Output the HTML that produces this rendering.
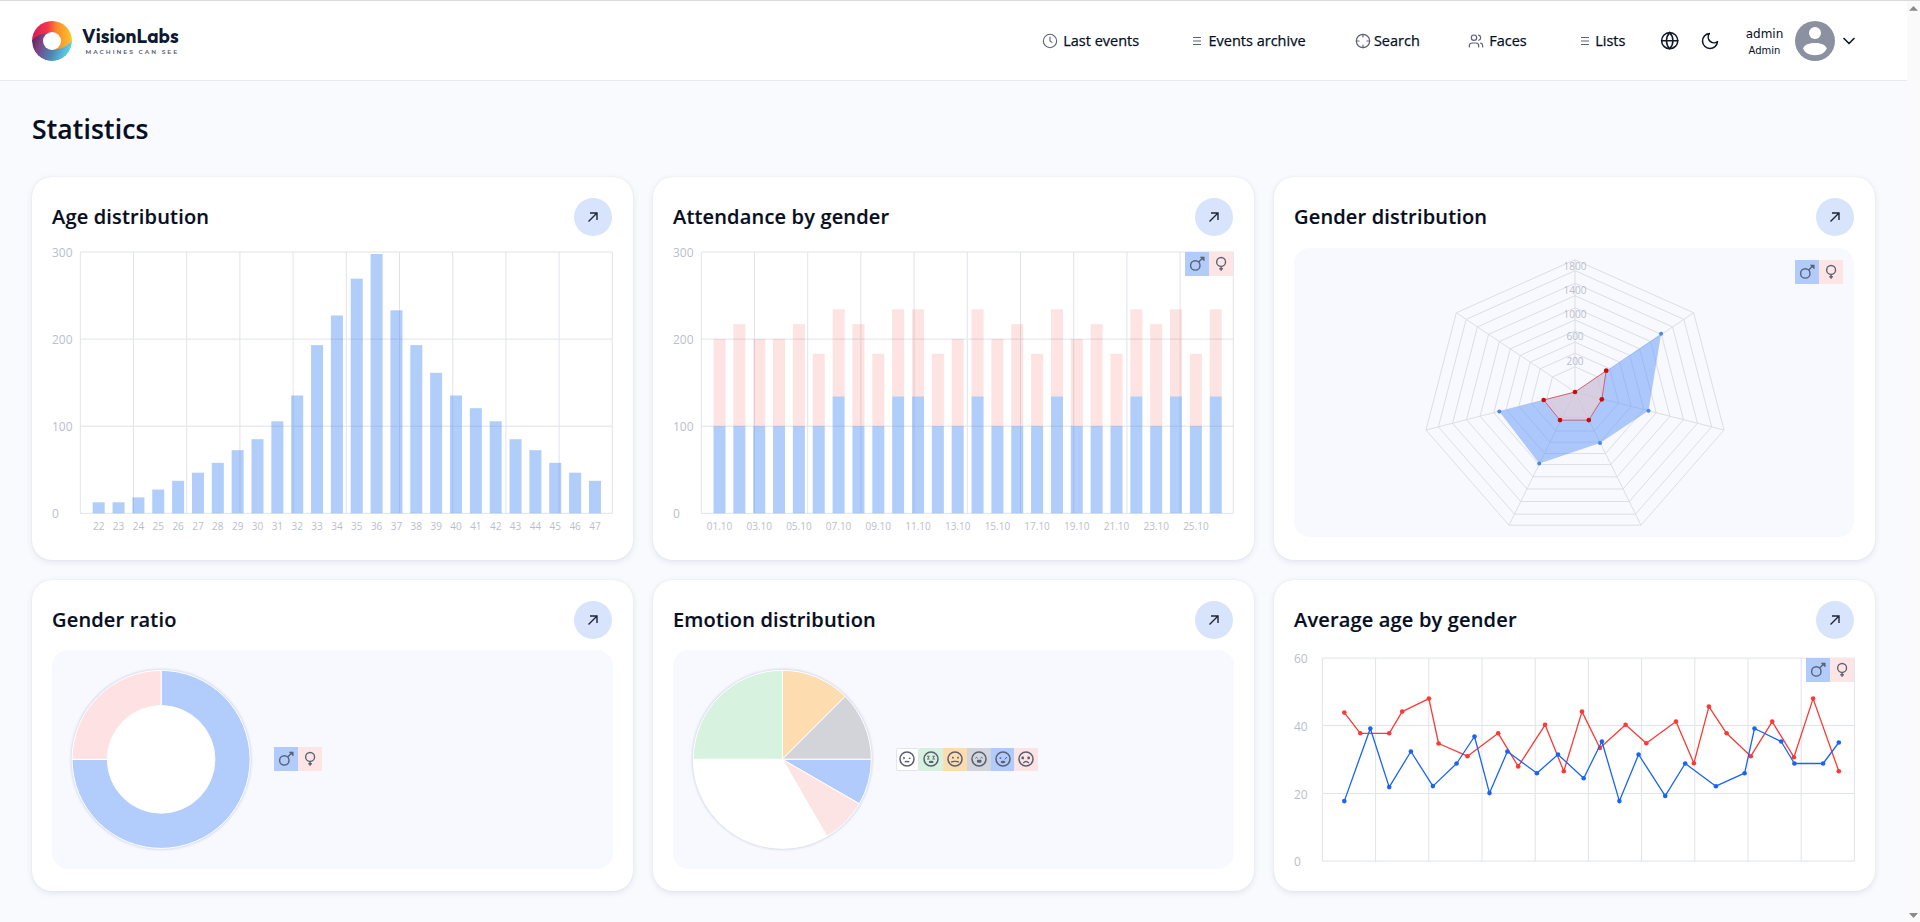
<!DOCTYPE html>
<html><head><meta charset="utf-8"><title>Statistics</title>
<style>
*{box-sizing:border-box}
html,body{margin:0;padding:0;width:1920px;height:922px;overflow:hidden;background:#f9fafd;font-family:'Open Sans', 'Liberation Sans', sans-serif;color:#070e21}
.topline{position:absolute;left:0;top:0;width:1920px;height:1px;background:#d9dbdb}
.hdr{position:absolute;left:0;top:1px;width:1907px;height:80px;background:#fff;border-bottom:1px solid #e8eaf0}
.sb{position:absolute;left:1907px;top:1px;width:13px;height:921px;background:#fafafa}
.ic{position:absolute;display:block;overflow:visible}
.nt{position:absolute;top:30.6px;font-size:14.5px;-webkit-text-stroke:0.25px #070e21;line-height:20px;color:#070e21;white-space:nowrap}
.brand{position:absolute;left:82px;top:26px;font:700 19px 'Outfit','Liberation Sans',sans-serif;color:#0e1a31;letter-spacing:0.1px;line-height:20px}
.tag{position:absolute;left:85.5px;top:47.8px;font:600 6px 'Montserrat','Liberation Sans',sans-serif;color:#545c70;letter-spacing:1.95px;line-height:8px;white-space:nowrap}
.user1{position:absolute;left:1734px;width:61px;text-align:center;top:27px;font:12px 'DejaVu Sans',sans-serif;line-height:14px}
.user2{position:absolute;left:1734px;width:61px;text-align:center;top:45px;font:10px 'DejaVu Sans',sans-serif;line-height:12px}
.av{position:absolute;left:1795px;top:21px;width:40px;height:40px;border-radius:50%;background:#8b91a0;overflow:hidden}
h1{position:absolute;left:32px;top:111.3px;margin:0;font-size:26.5px;-webkit-text-stroke:0.15px #070e21;font-weight:600;line-height:36px;letter-spacing:0.15px}
.card{position:absolute;background:#fff;border-radius:20px;box-shadow:0 2px 6px rgba(45,65,130,0.11),0 0 1.5px rgba(45,65,130,0.09)}
.ct{position:absolute;font-size:20px;font-weight:600;-webkit-text-stroke:0.15px #070e21;line-height:24px;white-space:nowrap;letter-spacing:0.17px}
.ab{position:absolute;width:38px;height:38px;border-radius:50%;background:#d8e4fc;display:flex;align-items:center;justify-content:center}
.panel{position:absolute;background:#f8f9fe;border-radius:16px}
.lg{position:absolute;width:24px;height:24px}
.lg svg{display:block}
.ov{position:absolute;left:0;top:0}
</style></head><body>
<div class="topline"></div>
<div class="hdr"></div>
<svg class="ic" style="left:32px;top:21px" width="40" height="40" viewBox="0 0 40 40">
<defs>
<linearGradient id="lgA" x1="0" y1="0" x2="1" y2="0"><stop offset="0" stop-color="#d41a5c"/><stop offset="0.4" stop-color="#f5374a"/><stop offset="0.62" stop-color="#fb8a2c"/><stop offset="1" stop-color="#fbc82a"/></linearGradient>
<linearGradient id="lgB" x1="0" y1="0.3" x2="1" y2="0.7"><stop offset="0" stop-color="#4e1a4c"/><stop offset="0.25" stop-color="#7d4083"/><stop offset="0.6" stop-color="#4d86b4"/><stop offset="1" stop-color="#5edcf0"/></linearGradient>
<mask id="hole"><rect width="40" height="40" fill="#fff"/><circle cx="20" cy="20" r="9" fill="#000"/></mask>
<clipPath id="cc"><circle cx="20" cy="20" r="20"/></clipPath>
</defs><g mask="url(#hole)" clip-path="url(#cc)">
<circle cx="20" cy="20" r="20" fill="url(#lgB)"/>
<path d="M0,19.6 C4,15 10,12.2 15.8,11.9 L21.2,28.8 C29,28.6 35,25 40,20 L40,0 L0,0 Z" fill="url(#lgA)"/>
</g>
<circle cx="20" cy="20" r="20" fill="none"/>
</svg>
<div class="brand">VisionLabs</div>
<div class="tag">MACHINES CAN SEE</div>
<svg class="ic" style="left:1042.4px;top:32.9px" width="16" height="16" viewBox="0 0 24 24" fill="none" stroke="#5b6274" stroke-width="1.6" stroke-linecap="round" stroke-linejoin="round"><circle cx="12" cy="12" r="10"/><polyline points="12 6 12 12 15 14"/></svg><svg class="ic" style="left:1190px;top:34px" width="14" height="14" viewBox="0 0 14 14"><path d="M3 3.5 H11 M3 7 H11 M3 10.5 H11" stroke="#5b6274" stroke-width="1"/></svg><svg class="ic" style="left:1354.5px;top:32.8px" width="16" height="16" viewBox="0 0 24 24" fill="none" stroke="#5b6274" stroke-width="1.8" stroke-linecap="round" stroke-linejoin="round"><circle cx="12" cy="12" r="10"/><path d="M22 12h-4M6 12H2M12 6V2M12 22v-4"/></svg><svg class="ic" style="left:1468.2px;top:33px" width="16" height="16" viewBox="0 0 24 24" fill="none" stroke="#5b6274" stroke-width="1.8" stroke-linecap="round" stroke-linejoin="round"><path d="M16 21v-2a4 4 0 0 0-4-4H6a4 4 0 0 0-4 4v2"/><circle cx="9" cy="7" r="4"/><path d="M22 21v-2a4 4 0 0 0-3-3.87"/><path d="M16 3.13a4 4 0 0 1 0 7.75"/></svg><svg class="ic" style="left:1578px;top:34px" width="14" height="14" viewBox="0 0 14 14"><path d="M3 3.5 H11 M3 7 H11 M3 10.5 H11" stroke="#5b6274" stroke-width="1"/></svg><svg class="ic" style="left:1660.35px;top:31.1px" width="19.4" height="19.4" viewBox="0 0 24 24" fill="none" stroke="#101828" stroke-width="1.9" stroke-linecap="round" stroke-linejoin="round"><circle cx="12" cy="12" r="10"/><path d="M12 2a14.5 14.5 0 0 0 0 20 14.5 14.5 0 0 0 0-20"/><path d="M2 12h20"/></svg><svg class="ic" style="left:1699.7px;top:31px" width="20" height="20" viewBox="0 0 24 24" fill="none" stroke="#101828" stroke-width="1.85" stroke-linecap="round" stroke-linejoin="round"><path d="M21 12.79A9 9 0 1 1 11.21 3 7 7 0 0 0 21 12.79z"/></svg><svg class="ic" style="left:1838.8px;top:30.8px" width="20" height="20" viewBox="0 0 24 24" fill="none" stroke="#101828" stroke-width="2" stroke-linecap="round" stroke-linejoin="round"><path d="m6 9 6 6 6-6"/></svg>
<div class="nt" style="left:1063.2px">Last events</div><div class="nt" style="left:1208.5px">Events archive</div><div class="nt" style="left:1373.9px">Search</div><div class="nt" style="left:1489.2px">Faces</div><div class="nt" style="left:1595.2px">Lists</div>
<div class="user1">admin</div>
<div class="user2">Admin</div>
<div class="av"><div style="position:absolute;left:14px;top:6px;width:12.2px;height:12.2px;border-radius:50%;background:#fff"></div><svg style="position:absolute;left:0;top:0" width="40" height="40" viewBox="0 0 40 40"><path d="M8.2 27.3 C10 20.3 29.8 20.3 31.6 27.3 C29.3 36.6 10.5 36.6 8.2 27.3 Z" fill="#fff"/></svg></div>
<div class="sb"><svg style="position:absolute;left:0;top:0" width="13" height="921" viewBox="0 0 13 921"><path d="M2 9.8 L6.5 5 L11 9.8Z" fill="#8a8a8a"/><path d="M2 912 L6.5 917 L11 912Z" fill="#8a8a8a"/></svg></div>
<h1>Statistics</h1>
<div class="card" style="left:32px;top:177px;width:601px;height:383px"></div><div class="ct" style="left:52px;top:205px">Age distribution</div><div class="ab" style="left:574px;top:198px"><svg width="14" height="14" viewBox="0 0 14 14"><path d="M2.5 11.5 L11 3 M4 3 H11 V10" fill="none" stroke="#1f2535" stroke-width="1.4"/></svg></div><div class="card" style="left:653px;top:177px;width:601px;height:383px"></div><div class="ct" style="left:673px;top:205px">Attendance by gender</div><div class="ab" style="left:1195px;top:198px"><svg width="14" height="14" viewBox="0 0 14 14"><path d="M2.5 11.5 L11 3 M4 3 H11 V10" fill="none" stroke="#1f2535" stroke-width="1.4"/></svg></div><div class="card" style="left:1274px;top:177px;width:601px;height:383px"></div><div class="ct" style="left:1294px;top:205px">Gender distribution</div><div class="ab" style="left:1816px;top:198px"><svg width="14" height="14" viewBox="0 0 14 14"><path d="M2.5 11.5 L11 3 M4 3 H11 V10" fill="none" stroke="#1f2535" stroke-width="1.4"/></svg></div><div class="card" style="left:32px;top:580px;width:601px;height:311px"></div><div class="ct" style="left:52px;top:608px">Gender ratio</div><div class="ab" style="left:574px;top:601px"><svg width="14" height="14" viewBox="0 0 14 14"><path d="M2.5 11.5 L11 3 M4 3 H11 V10" fill="none" stroke="#1f2535" stroke-width="1.4"/></svg></div><div class="card" style="left:653px;top:580px;width:601px;height:311px"></div><div class="ct" style="left:673px;top:608px">Emotion distribution</div><div class="ab" style="left:1195px;top:601px"><svg width="14" height="14" viewBox="0 0 14 14"><path d="M2.5 11.5 L11 3 M4 3 H11 V10" fill="none" stroke="#1f2535" stroke-width="1.4"/></svg></div><div class="card" style="left:1274px;top:580px;width:601px;height:311px"></div><div class="ct" style="left:1294px;top:608px">Average age by gender</div><div class="ab" style="left:1816px;top:601px"><svg width="14" height="14" viewBox="0 0 14 14"><path d="M2.5 11.5 L11 3 M4 3 H11 V10" fill="none" stroke="#1f2535" stroke-width="1.4"/></svg></div>
<div class="panel" style="left:1294px;top:248px;width:560px;height:289px"></div><div class="panel" style="left:52px;top:650px;width:561px;height:219px"></div><div class="panel" style="left:673px;top:650px;width:561px;height:219px"></div>
<svg class="ov" width="1920" height="922" viewBox="0 0 1920 922"><g stroke="#e1e3eb" stroke-width="1"><line x1="80.3" y1="252" x2="612.3" y2="252"/><line x1="80.3" y1="339.1" x2="612.3" y2="339.1"/><line x1="80.3" y1="426.2" x2="612.3" y2="426.2"/><line x1="80.3" y1="513.3" x2="612.3" y2="513.3"/><line x1="80.3" y1="252" x2="80.3" y2="513.3"/><line x1="133.5" y1="252" x2="133.5" y2="513.3"/><line x1="186.7" y1="252" x2="186.7" y2="513.3"/><line x1="239.9" y1="252" x2="239.9" y2="513.3"/><line x1="293.1" y1="252" x2="293.1" y2="513.3"/><line x1="346.3" y1="252" x2="346.3" y2="513.3"/><line x1="399.5" y1="252" x2="399.5" y2="513.3"/><line x1="452.7" y1="252" x2="452.7" y2="513.3"/><line x1="505.9" y1="252" x2="505.9" y2="513.3"/><line x1="559.1" y1="252" x2="559.1" y2="513.3"/><line x1="612.3" y1="252" x2="612.3" y2="513.3"/></g><g font-family="'Open Sans', 'Liberation Sans', sans-serif" font-size="12" fill="#b9becd"><text x="52" y="256.8">300</text><text x="52" y="343.8">200</text><text x="52" y="430.8">100</text><text x="52" y="517.8">0</text></g><g fill="rgba(66,133,244,0.41)"><rect x="92.7" y="502.3" width="12" height="11"/><rect x="112.55" y="502.3" width="12" height="11"/><rect x="132.4" y="497.4" width="12" height="15.9"/><rect x="152.25" y="489.6" width="12" height="23.7"/><rect x="172.1" y="480.8" width="12" height="32.5"/><rect x="191.95" y="472.7" width="12" height="40.6"/><rect x="211.8" y="462.9" width="12" height="50.4"/><rect x="231.65" y="450.2" width="12" height="63.1"/><rect x="251.5" y="439.2" width="12" height="74.1"/><rect x="271.35" y="421.3" width="12" height="92"/><rect x="291.2" y="395.5" width="12" height="117.8"/><rect x="311.05" y="345.1" width="12" height="168.2"/><rect x="330.9" y="315.5" width="12" height="197.8"/><rect x="350.75" y="278.7" width="12" height="234.6"/><rect x="370.6" y="254" width="12" height="259.3"/><rect x="390.45" y="310.3" width="12" height="203"/><rect x="410.3" y="345.1" width="12" height="168.2"/><rect x="430.15" y="372.8" width="12" height="140.5"/><rect x="450" y="395.5" width="12" height="117.8"/><rect x="469.85" y="408.2" width="12" height="105.1"/><rect x="489.7" y="421.3" width="12" height="92"/><rect x="509.55" y="439.2" width="12" height="74.1"/><rect x="529.4" y="450.2" width="12" height="63.1"/><rect x="549.25" y="462.9" width="12" height="50.4"/><rect x="569.1" y="472.7" width="12" height="40.6"/><rect x="588.95" y="480.8" width="12" height="32.5"/></g><g font-family="'Open Sans', 'Liberation Sans', sans-serif" font-size="10" fill="#b9becd" text-anchor="middle"><text x="98.7" y="529.7">22</text><text x="118.55" y="529.7">23</text><text x="138.4" y="529.7">24</text><text x="158.25" y="529.7">25</text><text x="178.1" y="529.7">26</text><text x="197.95" y="529.7">27</text><text x="217.8" y="529.7">28</text><text x="237.65" y="529.7">29</text><text x="257.5" y="529.7">30</text><text x="277.35" y="529.7">31</text><text x="297.2" y="529.7">32</text><text x="317.05" y="529.7">33</text><text x="336.9" y="529.7">34</text><text x="356.75" y="529.7">35</text><text x="376.6" y="529.7">36</text><text x="396.45" y="529.7">37</text><text x="416.3" y="529.7">38</text><text x="436.15" y="529.7">39</text><text x="456" y="529.7">40</text><text x="475.85" y="529.7">41</text><text x="495.7" y="529.7">42</text><text x="515.55" y="529.7">43</text><text x="535.4" y="529.7">44</text><text x="555.25" y="529.7">45</text><text x="575.1" y="529.7">46</text><text x="594.95" y="529.7">47</text></g><g stroke="#e1e3eb" stroke-width="1"><line x1="701.3" y1="252" x2="1233.3" y2="252"/><line x1="701.3" y1="339.1" x2="1233.3" y2="339.1"/><line x1="701.3" y1="426.2" x2="1233.3" y2="426.2"/><line x1="701.3" y1="513.3" x2="1233.3" y2="513.3"/><line x1="701.3" y1="252" x2="701.3" y2="513.3"/><line x1="754.5" y1="252" x2="754.5" y2="513.3"/><line x1="807.7" y1="252" x2="807.7" y2="513.3"/><line x1="860.9" y1="252" x2="860.9" y2="513.3"/><line x1="914.1" y1="252" x2="914.1" y2="513.3"/><line x1="967.3" y1="252" x2="967.3" y2="513.3"/><line x1="1020.5" y1="252" x2="1020.5" y2="513.3"/><line x1="1073.7" y1="252" x2="1073.7" y2="513.3"/><line x1="1126.9" y1="252" x2="1126.9" y2="513.3"/><line x1="1180.1" y1="252" x2="1180.1" y2="513.3"/><line x1="1233.3" y1="252" x2="1233.3" y2="513.3"/></g><g font-family="'Open Sans', 'Liberation Sans', sans-serif" font-size="12" fill="#b9becd"><text x="673" y="256.8">300</text><text x="673" y="343.8">200</text><text x="673" y="430.8">100</text><text x="673" y="517.8">0</text></g><g fill="rgba(244,67,54,0.15)"><rect x="713.5" y="338.96" width="12" height="87.17"/><rect x="733.35" y="324.14" width="12" height="101.99"/><rect x="753.2" y="338.96" width="12" height="87.17"/><rect x="773.05" y="338.96" width="12" height="87.17"/><rect x="792.9" y="324.14" width="12" height="101.99"/><rect x="812.75" y="353.78" width="12" height="72.35"/><rect x="832.6" y="309.32" width="12" height="87.17"/><rect x="852.45" y="324.14" width="12" height="101.99"/><rect x="872.3" y="353.78" width="12" height="72.35"/><rect x="892.15" y="309.32" width="12" height="87.17"/><rect x="912" y="309.32" width="12" height="87.17"/><rect x="931.85" y="353.78" width="12" height="72.35"/><rect x="951.7" y="338.96" width="12" height="87.17"/><rect x="971.55" y="309.32" width="12" height="87.17"/><rect x="991.4" y="338.96" width="12" height="87.17"/><rect x="1011.25" y="324.14" width="12" height="101.99"/><rect x="1031.1" y="353.78" width="12" height="72.35"/><rect x="1050.95" y="309.32" width="12" height="87.17"/><rect x="1070.8" y="338.96" width="12" height="87.17"/><rect x="1090.65" y="324.14" width="12" height="101.99"/><rect x="1110.5" y="353.78" width="12" height="72.35"/><rect x="1130.35" y="309.32" width="12" height="87.17"/><rect x="1150.2" y="324.14" width="12" height="101.99"/><rect x="1170.05" y="309.32" width="12" height="87.17"/><rect x="1189.9" y="353.78" width="12" height="72.35"/><rect x="1209.75" y="309.32" width="12" height="87.17"/></g><g fill="rgba(66,133,244,0.41)"><rect x="713.5" y="426.13" width="12" height="87.17"/><rect x="733.35" y="426.13" width="12" height="87.17"/><rect x="753.2" y="426.13" width="12" height="87.17"/><rect x="773.05" y="426.13" width="12" height="87.17"/><rect x="792.9" y="426.13" width="12" height="87.17"/><rect x="812.75" y="426.13" width="12" height="87.17"/><rect x="832.6" y="396.49" width="12" height="116.81"/><rect x="852.45" y="426.13" width="12" height="87.17"/><rect x="872.3" y="426.13" width="12" height="87.17"/><rect x="892.15" y="396.49" width="12" height="116.81"/><rect x="912" y="396.49" width="12" height="116.81"/><rect x="931.85" y="426.13" width="12" height="87.17"/><rect x="951.7" y="426.13" width="12" height="87.17"/><rect x="971.55" y="396.49" width="12" height="116.81"/><rect x="991.4" y="426.13" width="12" height="87.17"/><rect x="1011.25" y="426.13" width="12" height="87.17"/><rect x="1031.1" y="426.13" width="12" height="87.17"/><rect x="1050.95" y="396.49" width="12" height="116.81"/><rect x="1070.8" y="426.13" width="12" height="87.17"/><rect x="1090.65" y="426.13" width="12" height="87.17"/><rect x="1110.5" y="426.13" width="12" height="87.17"/><rect x="1130.35" y="396.49" width="12" height="116.81"/><rect x="1150.2" y="426.13" width="12" height="87.17"/><rect x="1170.05" y="396.49" width="12" height="116.81"/><rect x="1189.9" y="426.13" width="12" height="87.17"/><rect x="1209.75" y="396.49" width="12" height="116.81"/></g><g font-family="'Open Sans', 'Liberation Sans', sans-serif" font-size="10" fill="#b9becd" text-anchor="middle"><text x="719.5" y="529.7">01.10</text><text x="759.2" y="529.7">03.10</text><text x="798.9" y="529.7">05.10</text><text x="838.6" y="529.7">07.10</text><text x="878.3" y="529.7">09.10</text><text x="918" y="529.7">11.10</text><text x="957.7" y="529.7">13.10</text><text x="997.4" y="529.7">15.10</text><text x="1037.1" y="529.7">17.10</text><text x="1076.8" y="529.7">19.10</text><text x="1116.5" y="529.7">21.10</text><text x="1156.2" y="529.7">23.10</text><text x="1195.9" y="529.7">25.10</text></g><g fill="none" stroke="#dcdee5" stroke-width="1"><polygon points="1575,366.86 1597.55,376.95 1603.31,399.22 1587.54,417.31 1562.46,417.31 1546.69,399.22 1552.45,376.95"/><polygon points="1575,353.24 1609.78,368.79 1618.66,403.13 1594.34,431.03 1555.66,431.03 1531.34,403.13 1540.22,368.79"/><polygon points="1575,342.12 1619.75,362.14 1631.17,406.33 1599.88,442.22 1550.12,442.22 1518.83,406.33 1530.25,362.14"/><polygon points="1575,330.88 1629.84,355.41 1643.84,409.56 1605.49,453.54 1544.51,453.54 1506.16,409.56 1520.16,355.41"/><polygon points="1575,319.9 1639.69,348.84 1656.2,412.71 1610.97,464.59 1539.03,464.59 1493.8,412.71 1510.31,348.84"/><polygon points="1575,307.72 1650.61,341.55 1669.91,416.21 1617.04,476.85 1532.96,476.85 1480.09,416.21 1499.39,341.55"/><polygon points="1575,295.69 1661.41,334.34 1683.47,419.66 1623.05,488.97 1526.95,488.97 1466.53,419.66 1488.59,334.34"/><polygon points="1575,283.25 1672.57,326.9 1697.48,423.24 1629.25,501.49 1520.75,501.49 1452.52,423.24 1477.43,326.9"/><polygon points="1575,270.68 1683.85,319.37 1711.63,426.85 1635.52,514.14 1514.48,514.14 1438.37,426.85 1466.15,319.37"/><polygon points="1575,259.7 1693.7,312.8 1724,430 1641,525.2 1509,525.2 1426,430 1456.3,312.8"/><line x1="1575" y1="392" x2="1575" y2="259.7"/><line x1="1575" y1="392" x2="1693.7" y2="312.8"/><line x1="1575" y1="392" x2="1724" y2="430"/><line x1="1575" y1="392" x2="1641" y2="525.2"/><line x1="1575" y1="392" x2="1509" y2="525.2"/><line x1="1575" y1="392" x2="1426" y2="430"/><line x1="1575" y1="392" x2="1456.3" y2="312.8"/></g><g font-family="'Open Sans', 'Liberation Sans', sans-serif" font-size="10" fill="#b9becd" text-anchor="middle"><text x="1575" y="270.2">1800</text><text x="1575" y="293.8">1400</text><text x="1575" y="318.1">1000</text><text x="1575" y="340.2">600</text><text x="1575" y="365.1">200</text></g><polygon points="1575,392 1661.1,333.7 1648.5,410.7 1600,443 1539.2,463.5 1499.3,411.4 1575,392" fill="rgba(95,150,248,0.5)" stroke="none"/><circle cx="1661.1" cy="333.7" r="2" fill="#4a86f0"/><circle cx="1648.5" cy="410.7" r="2" fill="#4a86f0"/><circle cx="1600" cy="443" r="2" fill="#4a86f0"/><circle cx="1539.2" cy="463.5" r="2" fill="#4a86f0"/><circle cx="1499.3" cy="411.4" r="2" fill="#4a86f0"/><polygon points="1575,392 1606.2,370.7 1601.8,399.3 1588.8,420.1 1560,420.1 1543.7,400 1575,392" fill="rgba(255,212,204,0.52)" stroke="rgba(215,40,50,0.65)" stroke-width="1"/><circle cx="1575" cy="392" r="2.35" fill="#cc0a0a"/><circle cx="1606.2" cy="370.7" r="2.35" fill="#cc0a0a"/><circle cx="1601.8" cy="399.3" r="2.35" fill="#cc0a0a"/><circle cx="1588.8" cy="420.1" r="2.35" fill="#cc0a0a"/><circle cx="1560" cy="420.1" r="2.35" fill="#cc0a0a"/><circle cx="1543.7" cy="400" r="2.35" fill="#cc0a0a"/><defs><filter id="sh" x="-20%" y="-20%" width="140%" height="140%"><feGaussianBlur stdDeviation="0.9"/></filter></defs><circle cx="161.1" cy="759.4" r="89.4" fill="none" stroke="rgba(110,130,185,0.35)" stroke-width="1.6" filter="url(#sh)"/><path d="M161.1,670.4 A89,89 0 1 1 72.1,759.4 L107.3,759.4 A53.8,53.8 0 1 0 161.1,705.6 Z" fill="#b2ccfb" stroke="#fff" stroke-width="1"/><path d="M72.1,759.4 A89,89 0 0 1 161.1,670.4 L161.1,705.6 A53.8,53.8 0 0 0 107.3,759.4 Z" fill="#fee2e3" stroke="#fff" stroke-width="1"/><circle cx="161.1" cy="759.4" r="53.3" fill="#fff"/><circle cx="782.3" cy="759.3" r="89.4" fill="none" stroke="rgba(110,130,185,0.35)" stroke-width="1.6" filter="url(#sh)"/><path d="M782.3,759.3 L782.3,670.3 A89,89 0 0 1 845.23,696.37 Z" fill="#fddcb0" stroke="#fff" stroke-width="1"/><path d="M782.3,759.3 L845.23,696.37 A89,89 0 0 1 871.3,759.3 Z" fill="#d2d4d9" stroke="#fff" stroke-width="1"/><path d="M782.3,759.3 L871.3,759.3 A89,89 0 0 1 859.38,803.8 Z" fill="#b0cbfc" stroke="#fff" stroke-width="1"/><path d="M782.3,759.3 L859.38,803.8 A89,89 0 0 1 826.8,836.38 Z" fill="#fde4e4" stroke="#fff" stroke-width="1"/><path d="M782.3,759.3 L826.8,836.38 A89,89 0 0 1 693.3,759.3 Z" fill="#ffffff" stroke="#fff" stroke-width="1"/><path d="M782.3,759.3 L693.3,759.3 A89,89 0 0 1 782.3,670.3 Z" fill="#d7f2de" stroke="#fff" stroke-width="1"/><g stroke="#e1e3eb" stroke-width="1"><line x1="1322.4" y1="658.1" x2="1854.4" y2="658.1"/><line x1="1322.4" y1="725.5" x2="1854.4" y2="725.5"/><line x1="1322.4" y1="793.5" x2="1854.4" y2="793.5"/><line x1="1322.4" y1="861.1" x2="1854.4" y2="861.1"/><line x1="1322.4" y1="658.1" x2="1322.4" y2="861.1"/><line x1="1375.6" y1="658.1" x2="1375.6" y2="861.1"/><line x1="1428.8" y1="658.1" x2="1428.8" y2="861.1"/><line x1="1482" y1="658.1" x2="1482" y2="861.1"/><line x1="1535.2" y1="658.1" x2="1535.2" y2="861.1"/><line x1="1588.4" y1="658.1" x2="1588.4" y2="861.1"/><line x1="1641.6" y1="658.1" x2="1641.6" y2="861.1"/><line x1="1694.8" y1="658.1" x2="1694.8" y2="861.1"/><line x1="1748" y1="658.1" x2="1748" y2="861.1"/><line x1="1801.2" y1="658.1" x2="1801.2" y2="861.1"/><line x1="1854.4" y1="658.1" x2="1854.4" y2="861.1"/></g><g font-family="'Open Sans', 'Liberation Sans', sans-serif" font-size="12" fill="#b9becd"><text x="1294" y="662.7">60</text><text x="1294" y="730.7">40</text><text x="1294" y="798.7">20</text><text x="1294" y="865.7">0</text></g><polyline points="1344.3,712.6 1360.3,733.3 1389.2,733.3 1402.2,711.6 1428.9,698.6 1438.6,743.5 1467.5,756.2 1498.2,733.3 1518.2,766.4 1545.1,724.8 1563.8,771.2 1582,711.6 1599.9,748 1625.6,724.8 1646.3,743.3 1676,721.6 1693.9,763.2 1708.9,706.6 1726.6,733.3 1750.8,756.2 1772.2,721.6 1793.9,757.2 1813.1,698.6 1838.8,771.2" fill="none" stroke="#f93a35" stroke-width="1.3" stroke-linejoin="round"/><g fill="#f93a35"><circle cx="1344.3" cy="712.6" r="2.3"/><circle cx="1360.3" cy="733.3" r="2.3"/><circle cx="1389.2" cy="733.3" r="2.3"/><circle cx="1402.2" cy="711.6" r="2.3"/><circle cx="1428.9" cy="698.6" r="2.3"/><circle cx="1438.6" cy="743.5" r="2.3"/><circle cx="1467.5" cy="756.2" r="2.3"/><circle cx="1498.2" cy="733.3" r="2.3"/><circle cx="1518.2" cy="766.4" r="2.3"/><circle cx="1545.1" cy="724.8" r="2.3"/><circle cx="1563.8" cy="771.2" r="2.3"/><circle cx="1582" cy="711.6" r="2.3"/><circle cx="1599.9" cy="748" r="2.3"/><circle cx="1625.6" cy="724.8" r="2.3"/><circle cx="1646.3" cy="743.3" r="2.3"/><circle cx="1676" cy="721.6" r="2.3"/><circle cx="1693.9" cy="763.2" r="2.3"/><circle cx="1708.9" cy="706.6" r="2.3"/><circle cx="1726.6" cy="733.3" r="2.3"/><circle cx="1750.8" cy="756.2" r="2.3"/><circle cx="1772.2" cy="721.6" r="2.3"/><circle cx="1793.9" cy="757.2" r="2.3"/><circle cx="1813.1" cy="698.6" r="2.3"/><circle cx="1838.8" cy="771.2" r="2.3"/></g><polyline points="1344.3,801.1 1370.3,728.5 1389.2,787.1 1410.9,751.5 1432.9,786.1 1456.6,763.5 1474.5,736.5 1489.5,793.1 1507.4,751.5 1536.9,773.2 1558,754.5 1583.7,778.2 1601.9,741.5 1619.4,801.1 1638.6,754.5 1665.2,795.9 1685.2,763.5 1715.9,786.2 1744.6,773.2 1754.5,728.5 1781.2,741.5 1794.4,763.5 1823.1,763.5 1838.8,742.5" fill="none" stroke="#1a64f2" stroke-width="1.3" stroke-linejoin="round"/><g fill="#1a64f2"><circle cx="1344.3" cy="801.1" r="2.3"/><circle cx="1370.3" cy="728.5" r="2.3"/><circle cx="1389.2" cy="787.1" r="2.3"/><circle cx="1410.9" cy="751.5" r="2.3"/><circle cx="1432.9" cy="786.1" r="2.3"/><circle cx="1456.6" cy="763.5" r="2.3"/><circle cx="1474.5" cy="736.5" r="2.3"/><circle cx="1489.5" cy="793.1" r="2.3"/><circle cx="1507.4" cy="751.5" r="2.3"/><circle cx="1536.9" cy="773.2" r="2.3"/><circle cx="1558" cy="754.5" r="2.3"/><circle cx="1583.7" cy="778.2" r="2.3"/><circle cx="1601.9" cy="741.5" r="2.3"/><circle cx="1619.4" cy="801.1" r="2.3"/><circle cx="1638.6" cy="754.5" r="2.3"/><circle cx="1665.2" cy="795.9" r="2.3"/><circle cx="1685.2" cy="763.5" r="2.3"/><circle cx="1715.9" cy="786.2" r="2.3"/><circle cx="1744.6" cy="773.2" r="2.3"/><circle cx="1754.5" cy="728.5" r="2.3"/><circle cx="1781.2" cy="741.5" r="2.3"/><circle cx="1794.4" cy="763.5" r="2.3"/><circle cx="1823.1" cy="763.5" r="2.3"/><circle cx="1838.8" cy="742.5" r="2.3"/></g></svg>
<div class="lg" style="left:1185.1px;top:252px;background:#b1cbfb"><svg width="24" height="24" viewBox="0 0 24 24"><circle cx="10.3" cy="13.4" r="4.7" fill="none" stroke="#5a6275" stroke-width="1.4"/><path d="M13.7 9.9 L17.6 6" stroke="#5a6275" stroke-width="1.4"/><path d="M15.3 5 L19.2 5 L19.2 8.9 Z" fill="#5a6275" stroke="#5a6275" stroke-width="0.6" stroke-linejoin="round"/></svg></div><div class="lg" style="left:1209.1px;top:252px;background:#fde5e5"><svg width="24" height="24" viewBox="0 0 24 24"><circle cx="12.1" cy="9.9" r="4.45" fill="none" stroke="#5a6275" stroke-width="1.4"/><path d="M12.1 14.3 V18.7 M10.3 16.8 H13.9" stroke="#5a6275" stroke-width="1.5"/></svg></div>
<div class="lg" style="left:1794.5px;top:259.5px;background:#b1cbfb"><svg width="24" height="24" viewBox="0 0 24 24"><circle cx="10.3" cy="13.4" r="4.7" fill="none" stroke="#5a6275" stroke-width="1.4"/><path d="M13.7 9.9 L17.6 6" stroke="#5a6275" stroke-width="1.4"/><path d="M15.3 5 L19.2 5 L19.2 8.9 Z" fill="#5a6275" stroke="#5a6275" stroke-width="0.6" stroke-linejoin="round"/></svg></div><div class="lg" style="left:1818.5px;top:259.5px;background:#fde5e5"><svg width="24" height="24" viewBox="0 0 24 24"><circle cx="12.1" cy="9.9" r="4.45" fill="none" stroke="#5a6275" stroke-width="1.4"/><path d="M12.1 14.3 V18.7 M10.3 16.8 H13.9" stroke="#5a6275" stroke-width="1.5"/></svg></div>
<div class="lg" style="left:273.7px;top:747.4px;background:#b1cbfb"><svg width="24" height="24" viewBox="0 0 24 24"><circle cx="10.3" cy="13.4" r="4.7" fill="none" stroke="#5a6275" stroke-width="1.4"/><path d="M13.7 9.9 L17.6 6" stroke="#5a6275" stroke-width="1.4"/><path d="M15.3 5 L19.2 5 L19.2 8.9 Z" fill="#5a6275" stroke="#5a6275" stroke-width="0.6" stroke-linejoin="round"/></svg></div><div class="lg" style="left:297.7px;top:747.4px;background:#fde5e5"><svg width="24" height="24" viewBox="0 0 24 24"><circle cx="12.1" cy="9.9" r="4.45" fill="none" stroke="#5a6275" stroke-width="1.4"/><path d="M12.1 14.3 V18.7 M10.3 16.8 H13.9" stroke="#5a6275" stroke-width="1.5"/></svg></div>
<div class="lg" style="left:1806.4px;top:658px;background:#b1cbfb"><svg width="24" height="24" viewBox="0 0 24 24"><circle cx="10.3" cy="13.4" r="4.7" fill="none" stroke="#5a6275" stroke-width="1.4"/><path d="M13.7 9.9 L17.6 6" stroke="#5a6275" stroke-width="1.4"/><path d="M15.3 5 L19.2 5 L19.2 8.9 Z" fill="#5a6275" stroke="#5a6275" stroke-width="0.6" stroke-linejoin="round"/></svg></div><div class="lg" style="left:1830.4px;top:658px;background:#fde5e5"><svg width="24" height="24" viewBox="0 0 24 24"><circle cx="12.1" cy="9.9" r="4.45" fill="none" stroke="#5a6275" stroke-width="1.4"/><path d="M12.1 14.3 V18.7 M10.3 16.8 H13.9" stroke="#5a6275" stroke-width="1.5"/></svg></div>
<div class="lg" style="left:895.6px;top:747.7px;width:23.6px;height:23.5px;background:#ffffff;box-shadow:inset 0 0 0 1px #e2e5ed;border-radius:2px"></div><div class="lg" style="left:919.2px;top:747.7px;width:24px;height:23.5px;background:#d6f2de"></div><div class="lg" style="left:943px;top:747.7px;width:24px;height:23.5px;background:#fddcb0"></div><div class="lg" style="left:966.8px;top:747.7px;width:24px;height:23.5px;background:#d2d5dc"></div><div class="lg" style="left:990.6px;top:747.7px;width:24px;height:23.5px;background:#b0cbfc"></div><div class="lg" style="left:1014.4px;top:747.7px;width:24px;height:23.5px;background:#fde4e4"></div><div class="lg" style="left:895.2px;top:747.4px"><svg width="24" height="24" viewBox="0 0 24 24" fill="#596071"><circle cx="12" cy="12" r="7" fill="none" stroke="#596071" stroke-width="1.5"/><path d="M8.1 10.2 L9.9 11.1 L8.1 12" fill="none" stroke="#596071" stroke-width="1"/><ellipse cx="14.6" cy="11.2" rx="1.05" ry="0.8"/><rect x="9.7" y="13.85" width="4.6" height="1.5"/></svg></div><div class="lg" style="left:919.04px;top:747.4px"><svg width="24" height="24" viewBox="0 0 24 24" fill="#596071"><circle cx="12" cy="12" r="7" fill="none" stroke="#596071" stroke-width="1.5"/><path d="M10.6 9.3 H8.4 L9.8 10.7 L8.4 12 H10.6 M13.4 9.3 H15.6 L14.2 10.7 L15.6 12 H13.4" fill="none" stroke="#596071" stroke-width="0.95"/><ellipse cx="12.2" cy="14.9" rx="2.4" ry="1.2"/></svg></div><div class="lg" style="left:942.88px;top:747.4px"><svg width="24" height="24" viewBox="0 0 24 24" fill="#596071"><circle cx="12" cy="12" r="7" fill="none" stroke="#596071" stroke-width="1.5"/><path d="M9.1 9.8 h0.9 a0.9 0.9 0 0 1 0 1.8 h-0.9 Z M14.9 9.8 h0.9 v1.8 h-0.9 a0.9 0.9 0 0 1 0 -1.8 Z"/><path d="M8.1 15.1 Q9.5 14.3 12 14.4 Q14.5 14.3 15.9 15.1" fill="none" stroke="#596071" stroke-width="1.3"/></svg></div><div class="lg" style="left:966.72px;top:747.4px"><svg width="24" height="24" viewBox="0 0 24 24" fill="#596071"><circle cx="12" cy="12" r="7" fill="none" stroke="#596071" stroke-width="1.5"/><path d="M8.4 11.2 Q9.5 9.6 10.6 11.2 M13.5 11.2 Q14.6 9.6 15.7 11.2" fill="none" stroke="#596071" stroke-width="1"/><rect x="9.95" y="12.75" width="4.5" height="2.9" rx="1"/></svg></div><div class="lg" style="left:990.56px;top:747.4px"><svg width="24" height="24" viewBox="0 0 24 24" fill="#596071"><circle cx="12" cy="12" r="7" fill="none" stroke="#596071" stroke-width="1.5"/><ellipse cx="9.4" cy="11.1" rx="1.05" ry="0.8"/><path d="M13.7 12.4 L15.9 10.1 M15.1 10.2 L16 11.1" fill="none" stroke="#596071" stroke-width="1"/><ellipse cx="12" cy="15" rx="2.3" ry="1.3"/></svg></div><div class="lg" style="left:1014.4px;top:747.4px"><svg width="24" height="24" viewBox="0 0 24 24" fill="#596071"><circle cx="12" cy="12" r="7" fill="none" stroke="#596071" stroke-width="1.5"/><rect x="7.55" y="9.6" width="2.4" height="2.7" rx="0.6"/><rect x="13.45" y="9.6" width="2.4" height="2.7" rx="0.6"/><path d="M9.2 16.1 Q12 12.9 14.9 16.1" fill="none" stroke="#596071" stroke-width="1.3"/></svg></div>
</body></html>
